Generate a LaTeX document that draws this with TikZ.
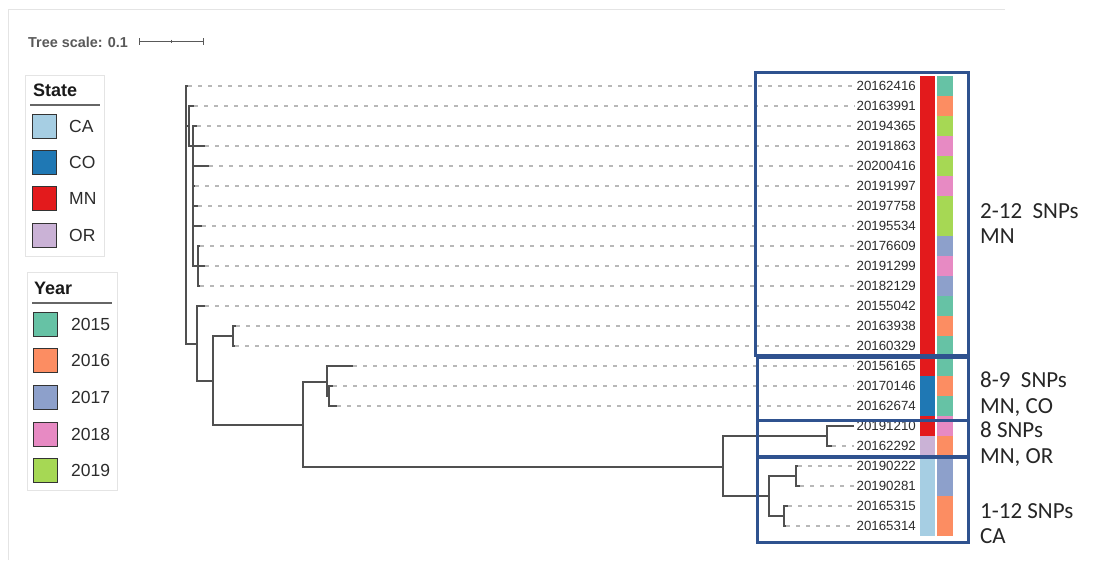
\documentclass[tikz,border=0pt]{standalone}
\usepackage{fontspec}
\setmainfont{Liberation Sans}
\newfontfamily\carlito{Carlito}
\definecolor{caC}{HTML}{A6CEE3}
\definecolor{coC}{HTML}{1F78B4}
\definecolor{mnC}{HTML}{E31A1C}
\definecolor{orC}{HTML}{CAB2D6}
\definecolor{yA}{HTML}{66C2A5}
\definecolor{yB}{HTML}{FC8D62}
\definecolor{yC}{HTML}{8DA0CB}
\definecolor{yD}{HTML}{E78AC3}
\definecolor{yE}{HTML}{A6D854}
\definecolor{boxblue}{RGB}{47,82,143}
\definecolor{txt}{HTML}{2C2C2C}
\definecolor{brc}{HTML}{505050}
\definecolor{leadc}{HTML}{B8B8B8}
\definecolor{frame}{HTML}{E4E4E4}
\begin{document}
\begin{tikzpicture}[x=1pt,y=-1pt,
  br/.style={draw=brc,line width=1.3pt},
  lead/.style={draw=leadc,line width=1.1pt,dash pattern=on 4pt off 6pt},
  leaf/.style={anchor=east,inner sep=0pt,text=txt,font=\fontsize{13.3}{13.3}\selectfont},
  snp/.style={anchor=north west,inner sep=0pt,align=left,text=black!85,font=\carlito\fontsize{23}{25.5}\selectfont},
  sq/.style={draw=black!80,line width=0.8pt,minimum size=24pt,inner sep=0pt},
  lgt/.style={anchor=west,inner sep=0pt,text=txt,font=\fontsize{17.5}{17.5}\selectfont},
  lgh/.style={anchor=west,inner sep=0pt,text=black!90,font=\bfseries\fontsize{18}{18}\selectfont},
  grp/.style={draw=boxblue,line width=3pt}]
\useasboundingbox (0,0) rectangle (1093,565);
\fill[white] (0,0) rectangle (1093,565);
% faint panel border
\draw[frame,line width=0.8pt] (8,9) -- (1005,9);
\draw[frame,line width=0.8pt] (8,9) -- (8,560);

% tree scale
\node[anchor=west,inner sep=0pt,text=black!65,font=\bfseries\fontsize{14.4}{14.4}\selectfont] (ts) at (28,42) {Tree scale: 0.1};
\coordinate (sb1) at (139,41);
\coordinate (sb2) at (203,41);
\draw[black!65,line width=1pt] (sb1) -- (sb2);
\draw[black!65,line width=1pt] ([yshift=-3.5pt]sb1) -- ([yshift=3.5pt]sb1);
\draw[black!65,line width=1pt] ([yshift=-3.5pt]sb2) -- ([yshift=3.5pt]sb2);
\draw[black!65,line width=1pt] (171,39.5) -- (171,42.5);

% legend: State
\draw[frame,line width=0.8pt] (25,75) rectangle (104,256);
\node[lgh] (stateT) at (33,90) {State};
\draw[black!60,line width=1.8pt] (30,105) -- (100,105);
\node[sq,fill=caC] (sqCA) at (44.5,126) {};
\node[sq,fill=coC] (sqCO) at (44.5,162.5) {};
\node[sq,fill=mnC] (sqMN) at (44.5,198.5) {};
\node[sq,fill=orC] (sqOR) at (44.5,235.5) {};
\node[lgt] (tCA) at (69,126) {CA};
\node[lgt] (tCO) at (69,162.5) {CO};
\node[lgt] (tMN) at (69,198.5) {MN};
\node[lgt] (tOR) at (69,235.5) {OR};

% legend: Year
\draw[frame,line width=0.8pt] (27,272) rectangle (117,490);
\node[lgh] (yearT) at (34,288) {Year};
\draw[black!60,line width=1.8pt] (32,303) -- (112,303);
\node[sq,fill=yA] (sq15) at (45.5,324) {};
\node[sq,fill=yB] (sq16) at (45.5,360.5) {};
\node[sq,fill=yC] (sq17) at (45.5,397) {};
\node[sq,fill=yD] (sq18) at (45.5,434) {};
\node[sq,fill=yE] (sq19) at (45.5,470.5) {};
\node[lgt] (t15) at (71,324) {2015};
\node[lgt] (t16) at (71,360.5) {2016};
\node[lgt] (t17) at (71,397) {2017};
\node[lgt] (t18) at (71,434) {2018};
\node[lgt] (t19) at (71,470.5) {2019};

% leaves, labels and colour strips
\foreach \i/\nm/\st/\yr in {1/20162416/mnC/yA,2/20163991/mnC/yB,3/20194365/mnC/yE,4/20191863/mnC/yD,
  5/20200416/mnC/yE,6/20191997/mnC/yD,7/20197758/mnC/yE,8/20195534/mnC/yE,9/20176609/mnC/yC,
  10/20191299/mnC/yD,11/20182129/mnC/yC,12/20155042/mnC/yA,13/20163938/mnC/yB,14/20160329/mnC/yA,
  15/20156165/mnC/yA,16/20170146/coC/yB,17/20162674/coC/yA,18/20191210/mnC/yD,19/20162292/orC/yB,
  20/20190222/caC/yC,21/20190281/caC/yC,22/20165315/caC/yB,23/20165314/caC/yB}{
  \node[leaf] (l\i) at (916,{66+20*\i}) {\nm};
  \fill[\st] (920,{56+20*\i}) rectangle (935,{76.4+20*\i});
  \fill[\yr] (937,{56+20*\i}) rectangle (953,{76.4+20*\i});
}

% tree nodes
\coordinate (R) at (186,215);
\coordinate (C) at (189,126);
\coordinate (D) at (193,146);
\coordinate (E) at (198,266);
\coordinate (A) at (197,344);
\coordinate (B) at (213,381);
\coordinate (B2) at (233,336);
\coordinate (F) at (303,425);
\coordinate (G) at (327,382);
\coordinate (H) at (329,396);
\coordinate (I) at (723,467);
\coordinate (J) at (827,436);
\coordinate (K) at (769,496);
\coordinate (L) at (796,476);
\coordinate (M) at (784,516);
% leaf tips
\foreach \i/\x in {1/188,2/194,3/197,4/205,5/209,6/195,7/198,8/202,9/200,10/205,11/200,12/205,
  13/236,14/235,15/353,16/333,17/337,18/854,19/832,20/798,21/800,22/788,23/786}{
  \coordinate (t\i) at (\x,{66+20*\i});
}
% dashed leaders
\foreach \i in {1,...,17,19,20,21,22,23}{
  \draw[lead] (t\i) -- ([xshift=-2pt]l\i.west);
}
% branches
\foreach \p/\c in {R/t1,R/C,R/A,C/t2,C/D,D/t3,D/t4,D/t5,D/t6,D/t7,D/t8,D/E,E/t9,E/t10,E/t11,
  A/t12,A/B,B/B2,B/F,B2/t13,B2/t14,F/G,F/I,G/t15,G/H,H/t16,H/t17,I/J,I/K,J/t18,J/t19,
  K/L,K/M,L/t20,L/t21,M/t22,M/t23}{
  \draw[br] (\p) |- (\c);
}

% group boxes
\draw[grp] (755,72) rectangle (968,355);
\draw[grp] (757,357) rectangle (968,420);
\draw[grp] (757,420) rectangle (968,456);
\draw[grp] (757,457) rectangle (968,542);

% group annotations
\node[snp] (g1) at (980,203) {2-12\ \ SNPs\\MN};
\node[snp] (g2) at (980,372) {8-9\ \ SNPs\\MN, CO};
\node[snp] (g3) at (980,422) {8 SNPs\\MN, OR};
\node[snp] (g4) at (980,503) {1-12 SNPs\\CA};
\end{tikzpicture}
\end{document}
